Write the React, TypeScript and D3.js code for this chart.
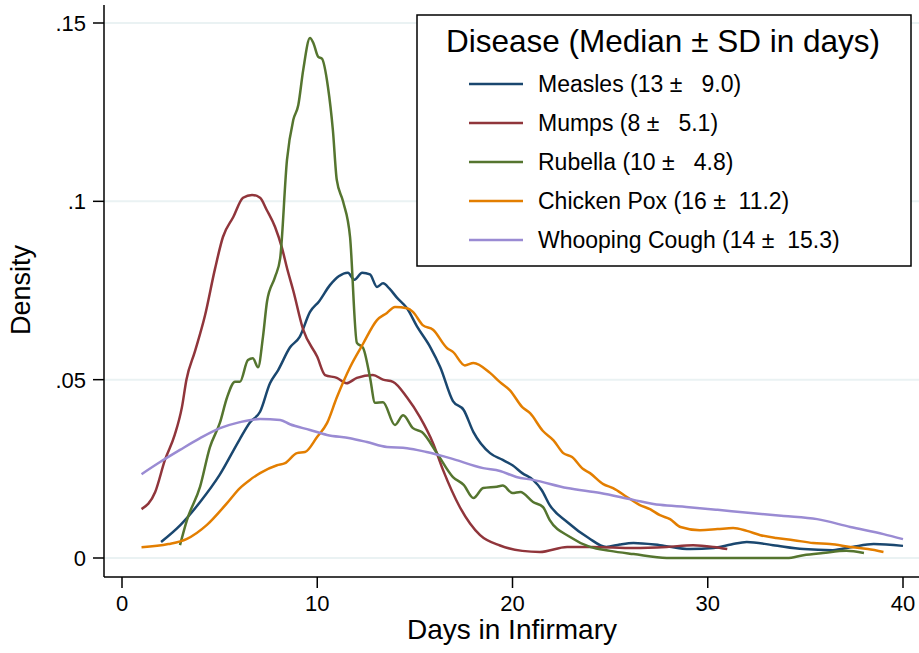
import React, { useEffect, useRef } from "react";
import * as d3 from "d3";

const xTicks = [0, 10, 20, 30, 40];
const yTicks = [0, 0.05, 0.1, 0.15];
const yTickLabels = ["0", ".05", ".1", ".15"];

const diseases = ["Measles", "Mumps", "Rubella", "Chicken Pox", "Whooping Cough"];
const legendLabels = [
  "Measles (13 \u00b1   9.0)",
  "Mumps (8 \u00b1   5.1)",
  "Rubella (10 \u00b1   4.8)",
  "Chicken Pox (16 \u00b1  11.2)",
  "Whooping Cough (14 \u00b1  15.3)",
];
const colors = ["#1a476f", "#90353b", "#55752f", "#e37e00", "#9a8bd3"];

// [days, density]
const measles = [
  [2, 0.0045], [3, 0.0093], [4, 0.0157], [5, 0.0233], [6, 0.033], [6.55, 0.038], [7.07, 0.041],
  [7.58, 0.049], [8, 0.0527], [8.6, 0.059], [9.1, 0.062], [9.63, 0.069], [10.1, 0.072], [10.65, 0.0765],
  [11.1, 0.079], [11.57, 0.080], [11.9, 0.078], [12.3, 0.080], [12.7, 0.0795], [13.06, 0.076],
  [13.37, 0.077], [13.7, 0.0755], [14.08, 0.073], [14.6, 0.070], [15.1, 0.065], [15.8, 0.059],
  [16.3, 0.0535], [16.95, 0.044], [17.5, 0.0415], [18, 0.0353], [18.85, 0.0294], [19.5, 0.0275],
  [20, 0.026], [20.5, 0.0238], [21.05, 0.0219], [21.5, 0.019], [21.9, 0.0149], [22.8, 0.0101],
  [23.9, 0.0056], [24.8, 0.0031], [25.5, 0.0038], [26.2, 0.0042], [27.55, 0.0036], [29.1, 0.0025],
  [30.3, 0.0028], [31.2, 0.0038], [32, 0.0045], [33.35, 0.0036], [34.9, 0.0025], [36.4, 0.0022],
  [37.4, 0.0031], [38.5, 0.0039], [40, 0.0034],
];
const mumps = [
  [1, 0.0137], [1.7, 0.0185], [2.2, 0.0275], [2.7, 0.0345], [3.07, 0.0423], [3.3, 0.05], [3.74, 0.058],
  [4.25, 0.068], [4.76, 0.081], [5.17, 0.09], [5.7, 0.0956], [6.2, 0.101], [6.66, 0.1018], [7.07, 0.101],
  [7.42, 0.0975], [7.84, 0.0928], [8.2, 0.0868], [8.45, 0.0813], [8.77, 0.075], [9.28, 0.064], [10, 0.0564],
  [10.4, 0.0513], [11, 0.0505], [11.5, 0.049], [12.03, 0.0505], [12.85, 0.0513], [13.37, 0.05],
  [13.88, 0.0494], [14.6, 0.045], [15.26, 0.0395], [15.93, 0.0322], [16.44, 0.0247], [17.3, 0.0143],
  [18.34, 0.0064], [19.36, 0.0035], [20.5, 0.002], [21.4, 0.0017], [22.8, 0.0031], [24.1, 0.0031],
  [26.2, 0.0028], [27.9, 0.0031], [29.25, 0.0036], [30.3, 0.0031], [31, 0.0025],
];
const rubella = [
  [2.97, 0.0036], [3.33, 0.0107], [4, 0.02], [4.5, 0.031], [5.02, 0.038], [5.38, 0.045], [5.79, 0.0494],
  [6.04, 0.0494], [6.45, 0.0555], [6.7, 0.056], [6.97, 0.0535], [7.22, 0.062], [7.43, 0.072],
  [7.84, 0.0788], [8.1, 0.084], [8.45, 0.1116], [8.77, 0.1228], [9.03, 0.127], [9.28, 0.1368],
  [9.63, 0.1458], [9.8, 0.1444], [10.05, 0.1405], [10.24, 0.14], [10.55, 0.132], [10.8, 0.12],
  [11, 0.106], [11.32, 0.1], [11.68, 0.09], [12.03, 0.0603], [12.34, 0.059], [12.7, 0.0507],
  [12.96, 0.0435], [13.37, 0.0437], [13.98, 0.0373], [14.4, 0.04], [14.9, 0.0364], [15.36, 0.0353],
  [16.13, 0.0294], [16.95, 0.0227], [17.5, 0.0205], [18, 0.0168], [18.5, 0.0196], [19.2, 0.02],
  [19.5, 0.0203], [20, 0.0182], [20.4, 0.0185], [21.05, 0.0157], [21.56, 0.0143], [21.9, 0.0107],
  [22.95, 0.0059], [23.97, 0.0031], [25, 0.002], [26.2, 0.0011], [27.9, 0], [34.06, 0], [34.9, 0.0008],
  [35.9, 0.0014], [37.1, 0.002], [38, 0.0014],
];
const chickenPox = [
  [1, 0.003], [2.37, 0.0039], [3.3, 0.0053], [4.35, 0.0093], [5.38, 0.0154], [6.04, 0.0196],
  [6.55, 0.0219], [7.07, 0.0238], [7.94, 0.026], [8.35, 0.0266], [8.96, 0.0294], [9.37, 0.0297],
  [10, 0.034], [10.5, 0.0378], [11, 0.045], [11.68, 0.0535], [12.34, 0.06], [13.06, 0.0667],
  [13.57, 0.0687], [13.98, 0.0704], [14.6, 0.07], [14.9, 0.069], [15.4, 0.0653], [15.93, 0.064],
  [16.64, 0.0589], [16.95, 0.0578], [17.56, 0.054], [18, 0.0547], [18.85, 0.0519], [19.36, 0.0493],
  [19.87, 0.047], [20.5, 0.0423], [20.9, 0.0406], [21.56, 0.0356], [22.1, 0.033], [22.6, 0.0294],
  [23.05, 0.0283], [23.6, 0.025], [23.97, 0.0238], [24.65, 0.0207], [25.15, 0.0196], [25.86, 0.0171],
  [26.5, 0.0149], [27.04, 0.0137], [27.55, 0.012], [28.07, 0.0109], [28.6, 0.0087], [29.6, 0.0078],
  [30.5, 0.0081], [31.3, 0.0084], [32, 0.0076], [32.7, 0.0064], [33.5, 0.0056], [34.4, 0.005],
  [35.4, 0.0042], [36.26, 0.0039], [37.3, 0.0031], [38.2, 0.0025], [39, 0.0017],
];
const whoopingCough = [
  [1, 0.0235], [1.95, 0.0269], [2.97, 0.0303], [4, 0.0336], [5.02, 0.0364], [6.04, 0.0381],
  [7.07, 0.039], [8.1, 0.0387], [8.6, 0.0375], [9.63, 0.0359], [10.5, 0.0345], [11.68, 0.0336],
  [12.55, 0.0325], [13.57, 0.0311], [14.6, 0.0308], [15.6, 0.0297], [16.8, 0.028], [18.5, 0.0252],
  [19.36, 0.0244], [20.2, 0.0227], [21.05, 0.0219], [22.8, 0.0196], [24.5, 0.0182], [26.2, 0.0163],
  [27.55, 0.0149], [28.9, 0.0143], [30.5, 0.0135], [32.2, 0.0126], [33.9, 0.0118], [35.6, 0.0109],
  [37.3, 0.0087], [39, 0.0067], [40, 0.0053],
];
const series = [measles, mumps, rubella, chickenPox, whoopingCough];

const W = 919;
const H = 653;
const FONT = "'Liberation Sans', Arial, Helvetica, sans-serif";

const App = () => {
  const svgRef = useRef(null);

  useEffect(() => {
    const svg = d3.select(svgRef.current);
    svg.selectAll("*").remove();

    const axisX = 104;
    const axisY = 577;
    const x = d3.scaleLinear([0, 40], [122, 903]);
    const y = d3.scaleLinear([0, 0.15], [558, 23]);

    // gridlines
    svg
      .append("g")
      .selectAll("line")
      .data(yTicks)
      .join("line")
      .attr("x1", axisX)
      .attr("x2", W)
      .attr("y1", (d) => y(d))
      .attr("y2", (d) => y(d))
      .attr("stroke", "#eaf2f3")
      .attr("stroke-width", 2);

    // y axis
    const yAxis = svg.append("g");
    yAxis
      .append("line")
      .attr("x1", axisX)
      .attr("x2", axisX)
      .attr("y1", 5)
      .attr("y2", axisY)
      .attr("stroke", "#000")
      .attr("stroke-width", 1.5);
    yAxis
      .selectAll("line.tick")
      .data(yTicks)
      .join("line")
      .attr("class", "tick")
      .attr("x1", axisX - 11)
      .attr("x2", axisX)
      .attr("y1", (d) => y(d))
      .attr("y2", (d) => y(d))
      .attr("stroke", "#000")
      .attr("stroke-width", 1.5);
    yAxis
      .selectAll("text")
      .data(yTicks)
      .join("text")
      .attr("x", 86)
      .attr("y", (d) => y(d) + 8)
      .attr("text-anchor", "end")
      .attr("font-size", 22)
      .text((d, i) => yTickLabels[i]);

    // x axis
    const xAxis = svg.append("g");
    xAxis
      .append("line")
      .attr("x1", axisX)
      .attr("x2", W)
      .attr("y1", axisY)
      .attr("y2", axisY)
      .attr("stroke", "#000")
      .attr("stroke-width", 1.5);
    xAxis
      .selectAll("line.tick")
      .data(xTicks)
      .join("line")
      .attr("class", "tick")
      .attr("x1", (d) => x(d))
      .attr("x2", (d) => x(d))
      .attr("y1", axisY)
      .attr("y2", axisY + 11)
      .attr("stroke", "#000")
      .attr("stroke-width", 1.5);
    xAxis
      .selectAll("text")
      .data(xTicks)
      .join("text")
      .attr("x", (d) => x(d))
      .attr("y", 611)
      .attr("text-anchor", "middle")
      .attr("font-size", 22)
      .text((d) => d);

    // axis titles
    svg
      .append("text")
      .attr("transform", "translate(30,290) rotate(-90)")
      .attr("text-anchor", "middle")
      .attr("font-size", 27)
      .text("Density");
    svg
      .append("text")
      .attr("x", 512)
      .attr("y", 639)
      .attr("text-anchor", "middle")
      .attr("font-size", 28)
      .text("Days in Infirmary");

    // density curves
    const line = d3
      .line()
      .x((d) => x(d[0]))
      .y((d) => y(d[1]))
      .curve(d3.curveMonotoneX);
    svg
      .append("g")
      .selectAll("path")
      .data(series)
      .join("path")
      .attr("d", (d) => line(d))
      .attr("fill", "none")
      .attr("stroke", (d, i) => colors[i])
      .attr("stroke-width", 2.5)
      .attr("stroke-linejoin", "round");

    // legend
    const lg = svg.append("g");
    lg.append("rect")
      .attr("x", 417)
      .attr("y", 15)
      .attr("width", 494)
      .attr("height", 251)
      .attr("fill", "#fff")
      .attr("stroke", "#000")
      .attr("stroke-width", 1.5);
    lg.append("text")
      .attr("x", 663)
      .attr("y", 52)
      .attr("text-anchor", "middle")
      .attr("font-size", 31.5)
      .text("Disease (Median \u00b1 SD in days)");
    const item = lg
      .selectAll("g.item")
      .data(diseases)
      .join("g")
      .attr("class", "item")
      .attr("transform", (d, i) => `translate(0,${84 + i * 39})`);
    item
      .append("line")
      .attr("x1", 469)
      .attr("x2", 523)
      .attr("stroke", (d, i) => colors[i])
      .attr("stroke-width", 2.5);
    item
      .append("text")
      .attr("x", 538)
      .attr("y", 8)
      .attr("font-size", 23)
      .style("white-space", "pre")
      .text((d, i) => legendLabels[i]);
  }, []);

  return (
    <svg
      ref={svgRef}
      width={W}
      height={H}
      style={{ position: "absolute", left: 0, top: 0, background: "#fff", fontFamily: FONT }}
    />
  );
};

export default App;
